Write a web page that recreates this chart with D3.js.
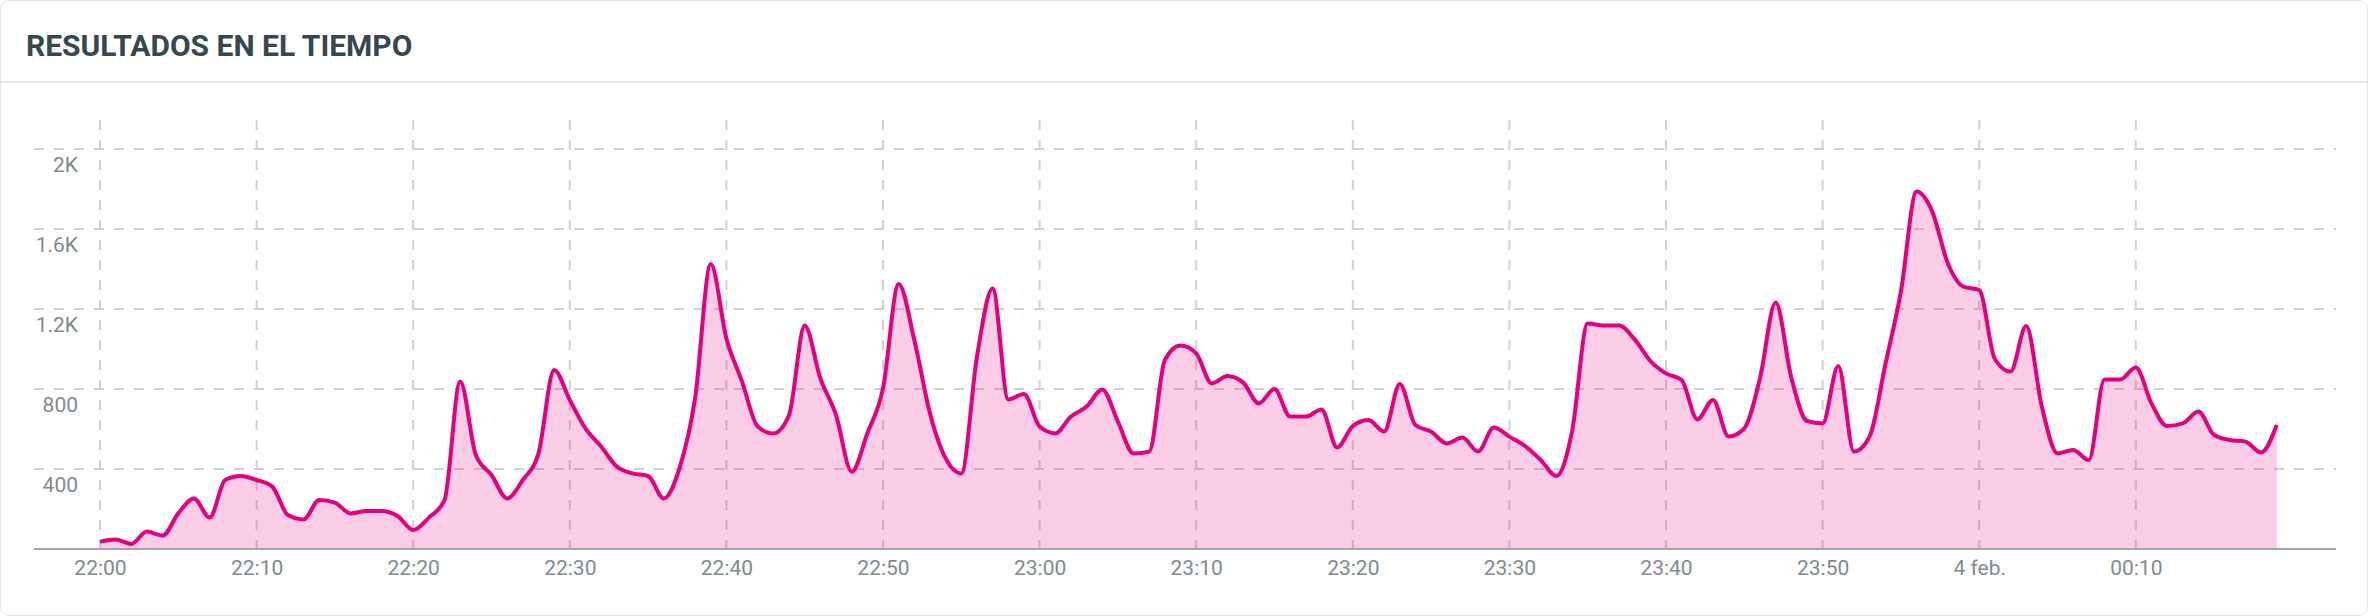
<!DOCTYPE html>
<html>
<head>
<meta charset="utf-8">
<script src="https://cdn.jsdelivr.net/npm/d3@7"></script>
<style>
  body { margin: 0; background: #fff; }
</style>
</head>
<body>
<div id="vis"></div>
<script>
// Results per minute, starting 3 feb 22:00
let startTime = new Date(2024, 1, 3, 22, 0);

let values = [
  37, 48, 25, 87, 67, 178, 253, 157, 345, 365,
  345, 312, 170, 148, 245, 232, 178, 190, 190, 165,
  95, 157, 245, 837, 470, 370, 253, 345, 478, 895,
  745, 603, 512, 412, 378, 365, 253, 403, 753, 1425,
  1053, 837, 612, 578, 670, 1117, 853, 670, 387, 578,
  803, 1325, 1045, 678, 453, 378, 962, 1303, 748, 775,
  612, 578, 662, 712, 798, 637, 478, 487, 945, 1017,
  978, 828, 865, 832, 728, 800, 662, 662, 698, 508,
  615, 645, 587, 825, 620, 587, 528, 557, 487, 608,
  562, 515, 445, 365, 587, 1128, 1117, 1117, 1048, 940,
  878, 845, 648, 745, 562, 603, 853, 1233, 858, 640,
  628, 915, 487, 562, 920, 1287, 1787, 1687, 1428, 1312,
  1295, 950, 887, 1115, 712, 478, 495, 445, 848, 848,
  907, 728, 615, 628, 687, 570, 545, 537, 483, 620
];

let yTicks = [400, 800, 1200, 1600, 2000];
let yTickLabels = ['400', '800', '1.2K', '1.6K', '2K'];
let xTickLabels = ['22:00', '22:10', '22:20', '22:30', '22:40', '22:50', '23:00',
                   '23:10', '23:20', '23:30', '23:40', '23:50', '4 feb.', '00:10'];

let width = 2368,
    height = 616;

let plot = { left: 34, right: 2336, top: 120, bottom: 549 };

let data = values.map((v, i) => ({ time: d3.timeMinute.offset(startTime, i), value: v }));

let svg = d3.select('#vis')
  .append('svg')
  .attr('width', width)
  .attr('height', height)
  .style('display', 'block');

// card + header
svg.append('rect')
  .attr('x', 0.5).attr('y', 0.5)
  .attr('width', width - 1).attr('height', height - 1)
  .attr('rx', 9)
  .attr('fill', '#fff')
  .attr('stroke', '#e4e7e9');

svg.append('text')
  .attr('x', 26)
  .attr('y', 56)
  .text('RESULTADOS EN EL TIEMPO')
  .style('font-family', 'Roboto')
  .style('font-weight', 'bold')
  .style('font-size', '30px')
  .style('fill', '#37474f');

svg.append('line')
  .attr('x1', 1).attr('x2', width - 1)
  .attr('y1', 82).attr('y2', 82)
  .attr('stroke', '#e8ecef')
  .attr('stroke-width', 2);

// scales
let xScale = d3.scaleTime()
  .domain([startTime, data[data.length - 1].time])
  .range([100, 100 + (data.length - 1) * 15.66]);

let yScale = d3.scaleLinear()
  .domain([0, 2000])
  .range([plot.bottom, 149]);

let xTickTimes = xTickLabels.map((d, i) => d3.timeMinute.offset(startTime, i * 10));

// grid
svg.append('g')
  .selectAll('line')
  .data(yTicks)
  .enter()
  .append('line')
  .attr('x1', plot.left).attr('x2', plot.right)
  .attr('y1', d => yScale(d)).attr('y2', d => yScale(d))
  .attr('stroke', '#d2d2d2')
  .attr('stroke-width', 2)
  .attr('stroke-dasharray', '10,10');

svg.append('g')
  .selectAll('line')
  .data(xTickTimes)
  .enter()
  .append('line')
  .attr('x1', d => xScale(d)).attr('x2', d => xScale(d))
  .attr('y1', plot.top).attr('y2', plot.bottom)
  .attr('stroke', '#d2d2d2')
  .attr('stroke-width', 2)
  .attr('stroke-dasharray', '10,10');

// area + line
let area = d3.area()
  .x(d => xScale(d.time))
  .y0(plot.bottom)
  .y1(d => yScale(d.value))
  .curve(d3.curveMonotoneX);

let line = d3.line()
  .x(d => xScale(d.time))
  .y(d => yScale(d.value))
  .curve(d3.curveMonotoneX);

svg.append('path')
  .datum(data)
  .attr('d', area)
  .attr('fill', '#e6007e')
  .attr('fill-opacity', 0.2);

svg.append('path')
  .datum(data)
  .attr('d', line)
  .attr('fill', 'none')
  .attr('stroke', '#e5007d')
  .attr('stroke-width', 4)
  .attr('stroke-linejoin', 'round');

// axes
let xAxis = svg.append('g')
  .attr('transform', `translate(0, ${plot.bottom})`)
  .call(d3.axisBottom(xScale)
    .tickValues(xTickTimes)
    .tickFormat((d, i) => xTickLabels[i])
    .tickSize(0)
    .tickPadding(26));

xAxis.select('.domain').remove();

svg.append('line')
  .attr('x1', plot.left).attr('x2', plot.right)
  .attr('y1', plot.bottom).attr('y2', plot.bottom)
  .attr('stroke', '#9fa7aa')
  .attr('stroke-width', 2);

let yAxis = svg.append('g')
  .attr('transform', 'translate(78, 22)')
  .call(d3.axisLeft(yScale)
    .tickValues(yTicks)
    .tickFormat((d, i) => yTickLabels[i])
    .tickSize(0)
    .tickPadding(0));

yAxis.select('.domain').remove();

svg.selectAll('.tick text')
  .style('font-family', 'Roboto')
  .style('font-size', '21px')
  .style('fill', '#818b8e');

yAxis.selectAll('.tick text').attr('dy', '0');
xAxis.selectAll('.tick text').attr('dy', '0').attr('y', 26);
</script>
</body>
</html>
